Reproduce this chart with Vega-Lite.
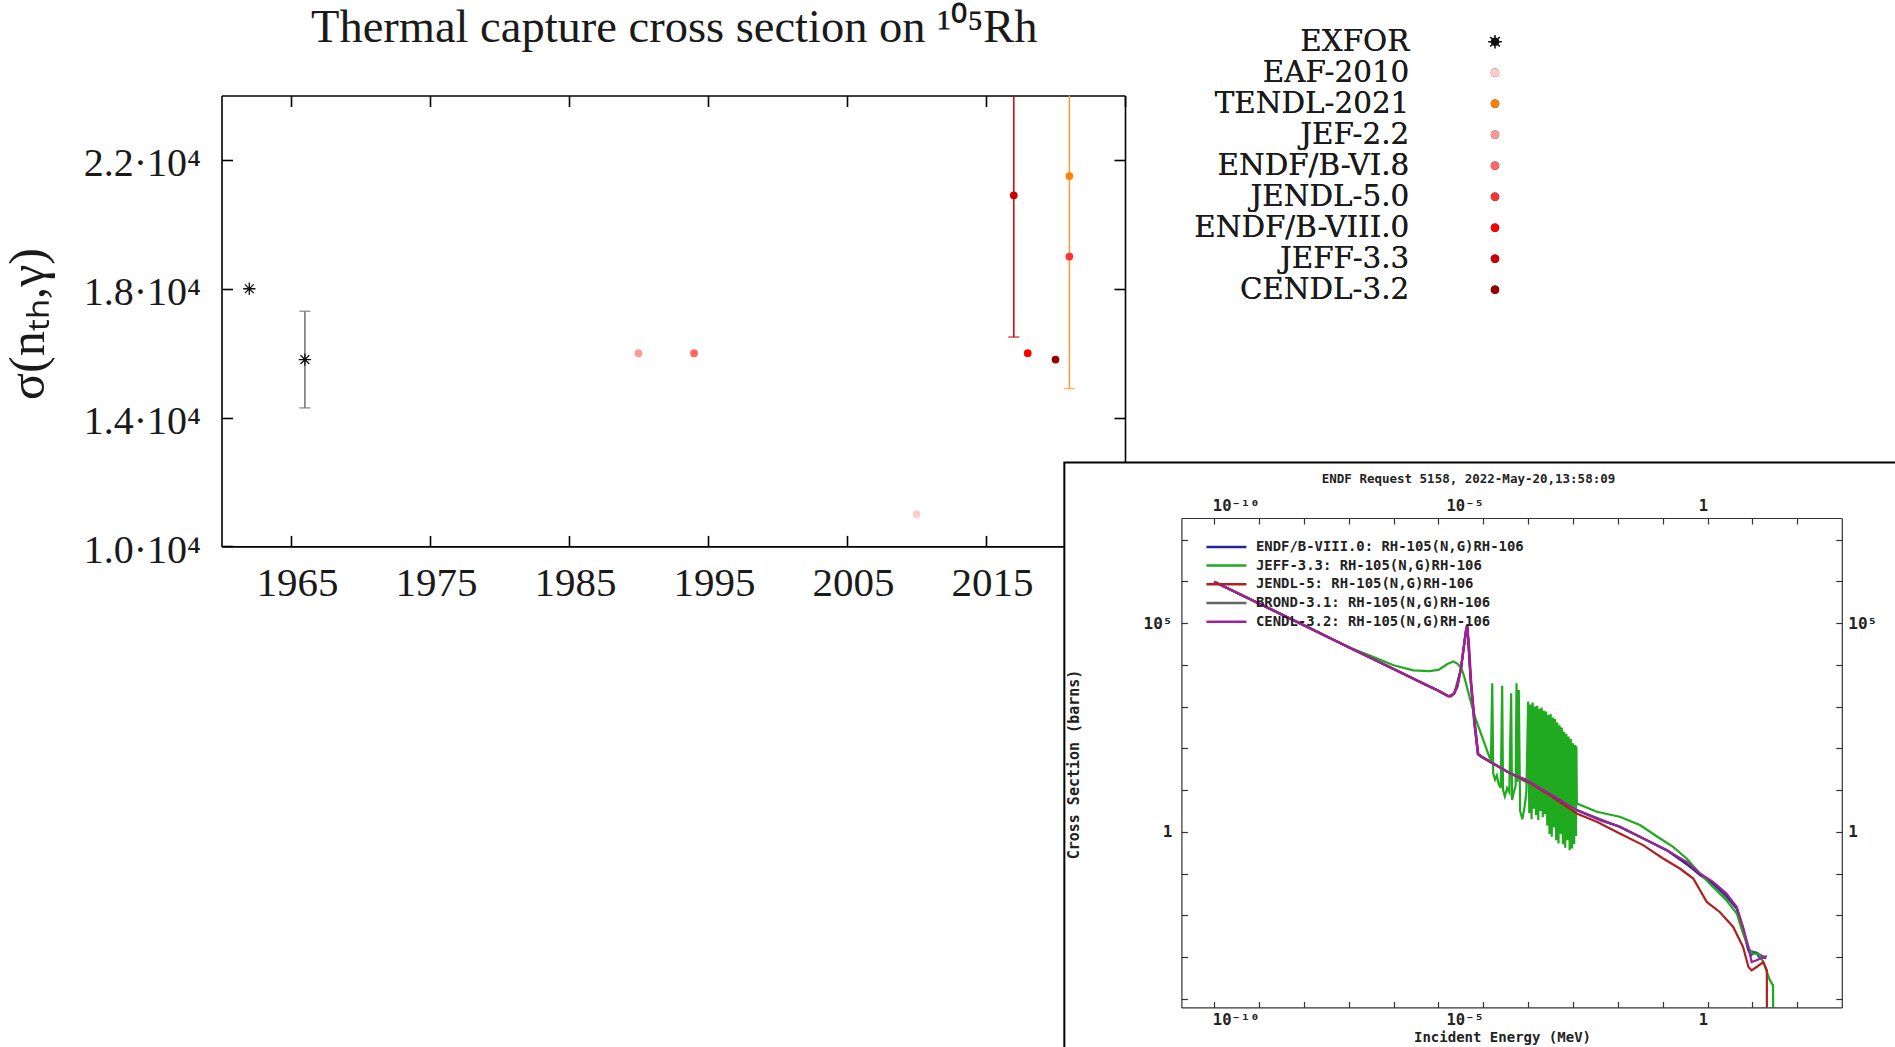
{
  "$schema": "https://vega.github.io/schema/vega-lite/v6.json",
  "width": 1895,
  "height": 1047,
  "autosize": {"type": "none"},
  "padding": 0,
  "background": "white",
  "config": {"view": {"stroke": null}},
  "datasets": {
    "thermal": [
      {"series": "EXFOR", "year": 1962, "value": 18000},
      {"series": "EXFOR", "year": 1966, "value": 15800, "lo": 14300, "hi": 17300},
      {"series": "JEF-2.2", "year": 1990, "value": 16000},
      {"series": "ENDF/B-VI.8", "year": 1994, "value": 16000},
      {"series": "EAF-2010", "year": 2010, "value": 11000},
      {"series": "JEFF-3.3", "year": 2017, "value": 20900, "lo": 16500, "hi": 25300},
      {"series": "ENDF/B-VIII.0", "year": 2018, "value": 16000},
      {"series": "CENDL-3.2", "year": 2020, "value": 15800},
      {"series": "TENDL-2021", "year": 2021, "value": 21500, "lo": 14900, "hi": 28100},
      {"series": "JENDL-5.0", "year": 2021, "value": 19000}
    ],
    "panel": [{"e0": 4.57e-15, "e1": 20000, "s0": 3e-6, "s1": 7.08e8}],
    "curves": [
      {"library": "BROND-3.1", "energy": 1e-11, "xs": 977000},
      {"library": "BROND-3.1", "energy": 1e-8, "xs": 26300},
      {"library": "BROND-3.1", "energy": 1e-6, "xs": 2400},
      {"library": "BROND-3.1", "energy": 1.66e-6, "xs": 1780},
      {"library": "BROND-3.1", "energy": 2.24e-6, "xs": 2090},
      {"library": "BROND-3.1", "energy": 3.16e-6, "xs": 7940},
      {"library": "BROND-3.1", "energy": 4.37e-6, "xs": 89100},
      {"library": "BROND-3.1", "energy": 5.25e-6, "xs": 3980},
      {"library": "BROND-3.1", "energy": 7.59e-6, "xs": 72.4},
      {"library": "BROND-3.1", "energy": 3.98e-5, "xs": 25.1},
      {"library": "BROND-3.1", "energy": 1.2e-3, "xs": 3.31},
      {"library": "BROND-3.1", "energy": 0.011, "xs": 1.32},
      {"library": "BROND-3.1", "energy": 0.123, "xs": 0.363},
      {"library": "BROND-3.1", "energy": 1.32, "xs": 0.0575},
      {"library": "BROND-3.1", "energy": 4.47, "xs": 0.0145},
      {"library": "BROND-3.1", "energy": 8.13, "xs": 0.00145},
      {"library": "BROND-3.1", "energy": 12.3, "xs": 0.00126},
      {"library": "BROND-3.1", "energy": 20, "xs": 0.000955},

      {"library": "ENDF/B-VIII.0", "energy": 1e-11, "xs": 977000},
      {"library": "ENDF/B-VIII.0", "energy": 1e-10, "xs": 295000},
      {"library": "ENDF/B-VIII.0", "energy": 1e-9, "xs": 89100},
      {"library": "ENDF/B-VIII.0", "energy": 1e-8, "xs": 26300},
      {"library": "ENDF/B-VIII.0", "energy": 1e-7, "xs": 7940},
      {"library": "ENDF/B-VIII.0", "energy": 5.01e-7, "xs": 3390},
      {"library": "ENDF/B-VIII.0", "energy": 1e-6, "xs": 2400},
      {"library": "ENDF/B-VIII.0", "energy": 1.41e-6, "xs": 1950},
      {"library": "ENDF/B-VIII.0", "energy": 1.66e-6, "xs": 1780},
      {"library": "ENDF/B-VIII.0", "energy": 1.91e-6, "xs": 1780},
      {"library": "ENDF/B-VIII.0", "energy": 2.24e-6, "xs": 2090},
      {"library": "ENDF/B-VIII.0", "energy": 2.63e-6, "xs": 3020},
      {"library": "ENDF/B-VIII.0", "energy": 3.16e-6, "xs": 7940},
      {"library": "ENDF/B-VIII.0", "energy": 3.63e-6, "xs": 25100},
      {"library": "ENDF/B-VIII.0", "energy": 4.07e-6, "xs": 63100},
      {"library": "ENDF/B-VIII.0", "energy": 4.37e-6, "xs": 89100},
      {"library": "ENDF/B-VIII.0", "energy": 4.68e-6, "xs": 31600},
      {"library": "ENDF/B-VIII.0", "energy": 5.25e-6, "xs": 3980},
      {"library": "ENDF/B-VIII.0", "energy": 6.31e-6, "xs": 398},
      {"library": "ENDF/B-VIII.0", "energy": 7.59e-6, "xs": 72.4},
      {"library": "ENDF/B-VIII.0", "energy": 8.91e-6, "xs": 63.1},
      {"library": "ENDF/B-VIII.0", "energy": 3.98e-5, "xs": 25.1},
      {"library": "ENDF/B-VIII.0", "energy": 9.12e-5, "xs": 17.4},
      {"library": "ENDF/B-VIII.0", "energy": 3.16e-4, "xs": 7.94},
      {"library": "ENDF/B-VIII.0", "energy": 1.2e-3, "xs": 3.31},
      {"library": "ENDF/B-VIII.0", "energy": 3.98e-3, "xs": 1.91},
      {"library": "ENDF/B-VIII.0", "energy": 0.011, "xs": 1.32},
      {"library": "ENDF/B-VIII.0", "energy": 0.0437, "xs": 0.631},
      {"library": "ENDF/B-VIII.0", "energy": 0.123, "xs": 0.363},
      {"library": "ENDF/B-VIII.0", "energy": 0.339, "xs": 0.174},
      {"library": "ENDF/B-VIII.0", "energy": 0.676, "xs": 0.0912},
      {"library": "ENDF/B-VIII.0", "energy": 1.32, "xs": 0.0575},
      {"library": "ENDF/B-VIII.0", "energy": 2.63, "xs": 0.0302},
      {"library": "ENDF/B-VIII.0", "energy": 4.47, "xs": 0.0145},
      {"library": "ENDF/B-VIII.0", "energy": 6.17, "xs": 0.00479},
      {"library": "ENDF/B-VIII.0", "energy": 8.13, "xs": 0.00145},
      {"library": "ENDF/B-VIII.0", "energy": 9.33, "xs": 0.0011},
      {"library": "ENDF/B-VIII.0", "energy": 10.5, "xs": 0.00126},
      {"library": "ENDF/B-VIII.0", "energy": 12.3, "xs": 0.00126},
      {"library": "ENDF/B-VIII.0", "energy": 14.1, "xs": 0.001},
      {"library": "ENDF/B-VIII.0", "energy": 20, "xs": 0.000955},

      {"library": "JEFF-3.3", "energy": 1e-11, "xs": 977000},
      {"library": "JEFF-3.3", "energy": 1e-10, "xs": 295000},
      {"library": "JEFF-3.3", "energy": 1e-9, "xs": 89100},
      {"library": "JEFF-3.3", "energy": 1e-8, "xs": 26300},
      {"library": "JEFF-3.3", "energy": 3.16e-8, "xs": 16200},
      {"library": "JEFF-3.3", "energy": 1e-7, "xs": 9770},
      {"library": "JEFF-3.3", "energy": 2.75e-7, "xs": 7410},
      {"library": "JEFF-3.3", "energy": 6.31e-7, "xs": 7080},
      {"library": "JEFF-3.3", "energy": 1e-6, "xs": 7590},
      {"library": "JEFF-3.3", "energy": 1.58e-6, "xs": 10500},
      {"library": "JEFF-3.3", "energy": 2.14e-6, "xs": 12000},
      {"library": "JEFF-3.3", "energy": 2.63e-6, "xs": 10700},
      {"library": "JEFF-3.3", "energy": 3.24e-6, "xs": 8320},
      {"library": "JEFF-3.3", "energy": 3.8e-6, "xs": 5010},
      {"library": "JEFF-3.3", "energy": 4.27e-6, "xs": 3020},
      {"library": "JEFF-3.3", "energy": 6.46e-6, "xs": 575},
      {"library": "JEFF-3.3", "energy": 1e-5, "xs": 158},
      {"library": "JEFF-3.3", "energy": 1.38e-5, "xs": 60.3},
      {"library": "JEFF-3.3", "energy": 1.48e-5, "xs": 50.1},
      {"library": "JEFF-3.3", "energy": 1.58e-5, "xs": 3630},
      {"library": "JEFF-3.3", "energy": 1.66e-5, "xs": 25.1},
      {"library": "JEFF-3.3", "energy": 1.82e-5, "xs": 17.8},
      {"library": "JEFF-3.3", "energy": 2.0e-5, "xs": 22.4},
      {"library": "JEFF-3.3", "energy": 2.19e-5, "xs": 14.1},
      {"library": "JEFF-3.3", "energy": 2.45e-5, "xs": 11.2},
      {"library": "JEFF-3.3", "energy": 2.63e-5, "xs": 3160},
      {"library": "JEFF-3.3", "energy": 2.75e-5, "xs": 10.0},
      {"library": "JEFF-3.3", "energy": 3.02e-5, "xs": 7.08},
      {"library": "JEFF-3.3", "energy": 3.39e-5, "xs": 11.2},
      {"library": "JEFF-3.3", "energy": 3.8e-5, "xs": 8.91},
      {"library": "JEFF-3.3", "energy": 4.17e-5, "xs": 2090},
      {"library": "JEFF-3.3", "energy": 4.37e-5, "xs": 5.75},
      {"library": "JEFF-3.3", "energy": 4.79e-5, "xs": 8.91},
      {"library": "JEFF-3.3", "energy": 5.25e-5, "xs": 12.6},
      {"library": "JEFF-3.3", "energy": 5.5e-5, "xs": 3630},
      {"library": "JEFF-3.3", "energy": 5.75e-5, "xs": 15.8},
      {"library": "JEFF-3.3", "energy": 6.17e-5, "xs": 2510},
      {"library": "JEFF-3.3", "energy": 6.61e-5, "xs": 3.16},
      {"library": "JEFF-3.3", "energy": 7.41e-5, "xs": 2.0},
      {"library": "JEFF-3.3", "energy": 8.32e-5, "xs": 3.98},
      {"library": "JEFF-3.3", "energy": 9.12e-5, "xs": 8.91},
      {"library": "JEFF-3.3", "energy": 1.0e-4, "xs": 1318},
      {"library": "JEFF-3.3", "energy": 1.059e-4, "xs": 2.82},
      {"library": "JEFF-3.3", "energy": 1.122e-4, "xs": 1122},
      {"library": "JEFF-3.3", "energy": 1.189e-4, "xs": 2.0},
      {"library": "JEFF-3.3", "energy": 1.259e-4, "xs": 1259},
      {"library": "JEFF-3.3", "energy": 1.334e-4, "xs": 3.55},
      {"library": "JEFF-3.3", "energy": 1.413e-4, "xs": 1000},
      {"library": "JEFF-3.3", "energy": 1.496e-4, "xs": 2.51},
      {"library": "JEFF-3.3", "energy": 1.585e-4, "xs": 1047},
      {"library": "JEFF-3.3", "energy": 1.679e-4, "xs": 1.91},
      {"library": "JEFF-3.3", "energy": 1.778e-4, "xs": 891},
      {"library": "JEFF-3.3", "energy": 1.884e-4, "xs": 3.16},
      {"library": "JEFF-3.3", "energy": 1.995e-4, "xs": 955},
      {"library": "JEFF-3.3", "energy": 2.113e-4, "xs": 2.24},
      {"library": "JEFF-3.3", "energy": 2.239e-4, "xs": 794},
      {"library": "JEFF-3.3", "energy": 2.371e-4, "xs": 2.63},
      {"library": "JEFF-3.3", "energy": 2.512e-4, "xs": 759},
      {"library": "JEFF-3.3", "energy": 2.661e-4, "xs": 1.41},
      {"library": "JEFF-3.3", "energy": 2.818e-4, "xs": 631},
      {"library": "JEFF-3.3", "energy": 2.985e-4, "xs": 0.891},
      {"library": "JEFF-3.3", "energy": 3.162e-4, "xs": 661},
      {"library": "JEFF-3.3", "energy": 3.35e-4, "xs": 0.759},
      {"library": "JEFF-3.3", "energy": 3.548e-4, "xs": 550},
      {"library": "JEFF-3.3", "energy": 3.758e-4, "xs": 1.26},
      {"library": "JEFF-3.3", "energy": 3.981e-4, "xs": 501},
      {"library": "JEFF-3.3", "energy": 4.217e-4, "xs": 0.631},
      {"library": "JEFF-3.3", "energy": 4.467e-4, "xs": 417},
      {"library": "JEFF-3.3", "energy": 4.732e-4, "xs": 0.525},
      {"library": "JEFF-3.3", "energy": 5.012e-4, "xs": 355},
      {"library": "JEFF-3.3", "energy": 5.309e-4, "xs": 0.891},
      {"library": "JEFF-3.3", "energy": 5.623e-4, "xs": 316},
      {"library": "JEFF-3.3", "energy": 5.957e-4, "xs": 0.501},
      {"library": "JEFF-3.3", "energy": 6.31e-4, "xs": 251},
      {"library": "JEFF-3.3", "energy": 6.683e-4, "xs": 0.417},
      {"library": "JEFF-3.3", "energy": 7.079e-4, "xs": 224},
      {"library": "JEFF-3.3", "energy": 7.499e-4, "xs": 0.631},
      {"library": "JEFF-3.3", "energy": 7.943e-4, "xs": 191},
      {"library": "JEFF-3.3", "energy": 8.414e-4, "xs": 0.363},
      {"library": "JEFF-3.3", "energy": 8.913e-4, "xs": 166},
      {"library": "JEFF-3.3", "energy": 9.441e-4, "xs": 0.398},
      {"library": "JEFF-3.3", "energy": 1.0e-3, "xs": 132},
      {"library": "JEFF-3.3", "energy": 1.059e-3, "xs": 0.501},
      {"library": "JEFF-3.3", "energy": 1.122e-3, "xs": 120},
      {"library": "JEFF-3.3", "energy": 1.161e-3, "xs": 0.794},
      {"library": "JEFF-3.3", "energy": 1.189e-3, "xs": 110},
      {"library": "JEFF-3.3", "energy": 1.216e-3, "xs": 4.79},
      {"library": "JEFF-3.3", "energy": 3.39e-3, "xs": 3.02},
      {"library": "JEFF-3.3", "energy": 0.011, "xs": 2.29},
      {"library": "JEFF-3.3", "energy": 0.0309, "xs": 1.45},
      {"library": "JEFF-3.3", "energy": 0.0871, "xs": 0.692},
      {"library": "JEFF-3.3", "energy": 0.17, "xs": 0.437},
      {"library": "JEFF-3.3", "energy": 0.339, "xs": 0.229},
      {"library": "JEFF-3.3", "energy": 0.676, "xs": 0.1},
      {"library": "JEFF-3.3", "energy": 1.32, "xs": 0.0479},
      {"library": "JEFF-3.3", "energy": 2.63, "xs": 0.0229},
      {"library": "JEFF-3.3", "energy": 4.47, "xs": 0.011},
      {"library": "JEFF-3.3", "energy": 6.17, "xs": 0.00363},
      {"library": "JEFF-3.3", "energy": 8.13, "xs": 0.00174},
      {"library": "JEFF-3.3", "energy": 9.55, "xs": 0.0012},
      {"library": "JEFF-3.3", "energy": 13.5, "xs": 0.0012},
      {"library": "JEFF-3.3", "energy": 17.4, "xs": 0.000759},
      {"library": "JEFF-3.3", "energy": 24.5, "xs": 0.000275},
      {"library": "JEFF-3.3", "energy": 28.8, "xs": 0.000209},
      {"library": "JEFF-3.3", "energy": 28.9, "xs": 6.2e-5},

      {"library": "JENDL-5", "energy": 1e-11, "xs": 977000},
      {"library": "JENDL-5", "energy": 1e-10, "xs": 295000},
      {"library": "JENDL-5", "energy": 1e-9, "xs": 89100},
      {"library": "JENDL-5", "energy": 1e-8, "xs": 26300},
      {"library": "JENDL-5", "energy": 1e-7, "xs": 7940},
      {"library": "JENDL-5", "energy": 1e-6, "xs": 2400},
      {"library": "JENDL-5", "energy": 1.41e-6, "xs": 1950},
      {"library": "JENDL-5", "energy": 1.66e-6, "xs": 1780},
      {"library": "JENDL-5", "energy": 1.91e-6, "xs": 1780},
      {"library": "JENDL-5", "energy": 2.24e-6, "xs": 2090},
      {"library": "JENDL-5", "energy": 2.63e-6, "xs": 3020},
      {"library": "JENDL-5", "energy": 3.16e-6, "xs": 7940},
      {"library": "JENDL-5", "energy": 3.63e-6, "xs": 25100},
      {"library": "JENDL-5", "energy": 4.07e-6, "xs": 63100},
      {"library": "JENDL-5", "energy": 4.37e-6, "xs": 89100},
      {"library": "JENDL-5", "energy": 4.79e-6, "xs": 31600},
      {"library": "JENDL-5", "energy": 5.37e-6, "xs": 3980},
      {"library": "JENDL-5", "energy": 6.46e-6, "xs": 398},
      {"library": "JENDL-5", "energy": 7.76e-6, "xs": 72.4},
      {"library": "JENDL-5", "energy": 8.91e-6, "xs": 63.1},
      {"library": "JENDL-5", "energy": 3.98e-5, "xs": 25.1},
      {"library": "JENDL-5", "energy": 9.12e-5, "xs": 16.6},
      {"library": "JENDL-5", "energy": 3.16e-4, "xs": 7.24},
      {"library": "JENDL-5", "energy": 1.2e-3, "xs": 2.75},
      {"library": "JENDL-5", "energy": 3.39e-3, "xs": 1.74},
      {"library": "JENDL-5", "energy": 0.011, "xs": 0.912},
      {"library": "JENDL-5", "energy": 0.0363, "xs": 0.479},
      {"library": "JENDL-5", "energy": 0.102, "xs": 0.229},
      {"library": "JENDL-5", "energy": 0.24, "xs": 0.132},
      {"library": "JENDL-5", "energy": 0.479, "xs": 0.0759},
      {"library": "JENDL-5", "energy": 0.955, "xs": 0.0209},
      {"library": "JENDL-5", "energy": 1.86, "xs": 0.012},
      {"library": "JENDL-5", "energy": 3.72, "xs": 0.00525},
      {"library": "JENDL-5", "energy": 6.17, "xs": 0.00174},
      {"library": "JENDL-5", "energy": 8.13, "xs": 0.000575},
      {"library": "JENDL-5", "energy": 9.55, "xs": 0.000479},
      {"library": "JENDL-5", "energy": 12.3, "xs": 0.000575},
      {"library": "JENDL-5", "energy": 17.4, "xs": 0.000759},
      {"library": "JENDL-5", "energy": 20.9, "xs": 0.000479},
      {"library": "JENDL-5", "energy": 20.95, "xs": 6.2e-5},

      {"library": "CENDL-3.2", "energy": 1e-11, "xs": 977000},
      {"library": "CENDL-3.2", "energy": 1e-10, "xs": 295000},
      {"library": "CENDL-3.2", "energy": 1e-9, "xs": 89100},
      {"library": "CENDL-3.2", "energy": 1e-8, "xs": 26300},
      {"library": "CENDL-3.2", "energy": 1e-7, "xs": 7940},
      {"library": "CENDL-3.2", "energy": 5.01e-7, "xs": 3390},
      {"library": "CENDL-3.2", "energy": 1e-6, "xs": 2400},
      {"library": "CENDL-3.2", "energy": 1.41e-6, "xs": 1950},
      {"library": "CENDL-3.2", "energy": 1.66e-6, "xs": 1780},
      {"library": "CENDL-3.2", "energy": 1.91e-6, "xs": 1780},
      {"library": "CENDL-3.2", "energy": 2.24e-6, "xs": 2090},
      {"library": "CENDL-3.2", "energy": 2.63e-6, "xs": 3020},
      {"library": "CENDL-3.2", "energy": 3.16e-6, "xs": 7940},
      {"library": "CENDL-3.2", "energy": 3.63e-6, "xs": 25100},
      {"library": "CENDL-3.2", "energy": 4.07e-6, "xs": 63100},
      {"library": "CENDL-3.2", "energy": 4.37e-6, "xs": 93300},
      {"library": "CENDL-3.2", "energy": 4.68e-6, "xs": 31600},
      {"library": "CENDL-3.2", "energy": 5.25e-6, "xs": 3980},
      {"library": "CENDL-3.2", "energy": 6.31e-6, "xs": 398},
      {"library": "CENDL-3.2", "energy": 7.59e-6, "xs": 72.4},
      {"library": "CENDL-3.2", "energy": 8.91e-6, "xs": 63.1},
      {"library": "CENDL-3.2", "energy": 3.98e-5, "xs": 25.1},
      {"library": "CENDL-3.2", "energy": 9.12e-5, "xs": 17.4},
      {"library": "CENDL-3.2", "energy": 3.16e-4, "xs": 7.94},
      {"library": "CENDL-3.2", "energy": 1.2e-3, "xs": 3.31},
      {"library": "CENDL-3.2", "energy": 3.98e-3, "xs": 1.91},
      {"library": "CENDL-3.2", "energy": 0.011, "xs": 1.32},
      {"library": "CENDL-3.2", "energy": 0.0437, "xs": 0.631},
      {"library": "CENDL-3.2", "energy": 0.123, "xs": 0.363},
      {"library": "CENDL-3.2", "energy": 0.339, "xs": 0.191},
      {"library": "CENDL-3.2", "energy": 0.676, "xs": 0.1},
      {"library": "CENDL-3.2", "energy": 1.32, "xs": 0.0631},
      {"library": "CENDL-3.2", "energy": 2.63, "xs": 0.0331},
      {"library": "CENDL-3.2", "energy": 4.47, "xs": 0.0158},
      {"library": "CENDL-3.2", "energy": 6.17, "xs": 0.00525},
      {"library": "CENDL-3.2", "energy": 8.13, "xs": 0.00174},
      {"library": "CENDL-3.2", "energy": 9.55, "xs": 0.000759},
      {"library": "CENDL-3.2", "energy": 12.3, "xs": 0.000832},
      {"library": "CENDL-3.2", "energy": 14.8, "xs": 0.000912},
      {"library": "CENDL-3.2", "energy": 20.9, "xs": 0.00105}
    ]
  },
  "layer": [
    {
      "data": {"name": "thermal"},
      "layer": [
        {
          "transform": [{"filter": "isValid(datum.lo)"}],
          "mark": {"type": "rule", "strokeWidth": 1.5},
          "encoding": {
            "x": {"field": "year", "type": "quantitative",
                  "scale": {"domain": [1960, 2025], "range": [221.5, 1125], "nice": false, "zero": false},
                  "axis": {"orient": "bottom", "offset": -500.6, "values": [1965, 1975, 1985, 1995, 2005, 2015, 2025], "format": "d",
                           "tickSize": -11, "tickWidth": 1.6, "tickColor": "#000", "domainColor": "#000", "domainWidth": 1.6,
                           "labelFont": "Liberation Serif", "labelFontSize": 41, "labelColor": "#1a1a1a", "labelPadding": 28, "labelOffset": 6,
                           "labelFlush": false, "labelOverlap": false, "grid": false, "title": null}},
            "y": {"field": "lo", "type": "quantitative",
                  "scale": {"domain": [10000, 24000], "range": [546.4, 95.5], "nice": false, "zero": false, "clamp": true},
                  "axis": {"orient": "left", "offset": -221.5, "values": [10000, 14000, 18000, 22000],
                           "labelExpr": "format(datum.value / 10000, '.1f') + '·10⁴'",
                           "tickSize": -11, "tickWidth": 1.6, "tickColor": "#000", "domainColor": "#000", "domainWidth": 1.6,
                           "labelFont": "Liberation Serif", "labelFontSize": 40, "labelColor": "#1a1a1a", "labelPadding": 32, "labelOffset": 4,
                           "labelFlush": false, "labelOverlap": false, "grid": false,
                           "title": "σ(nₜₕ,γ)", "titleFont": "Liberation Serif", "titleFontSize": 50, "titleFontWeight": "normal", "titleColor": "#1a1a1a",
                           "titleX": -193, "titleY": 323.5, "titleAngle": -90, "titleAlign": "center", "titleBaseline": "middle"}},
            "y2": {"field": "hi"},
            "stroke": {"field": "series", "type": "nominal", "scale": {"domain": ["EXFOR", "JEFF-3.3", "TENDL-2021"], "range": ["#707070", "#cc0000", "#ff9933"]}, "legend": null}
          }
        },
        {
          "transform": [{"filter": "isValid(datum.lo)"}],
          "mark": {"type": "tick", "orient": "horizontal", "size": 11, "thickness": 1.5},
          "encoding": {
            "x": {"field": "year", "type": "quantitative", "scale": {"domain": [1960, 2025], "range": [221.5, 1125], "nice": false, "zero": false}, "axis": null},
            "y": {"field": "lo", "type": "quantitative", "scale": {"domain": [10000, 24000], "range": [546.4, 95.5], "nice": false, "zero": false, "clamp": true}, "axis": null},
            "fill": {"field": "series", "type": "nominal", "scale": {"domain": ["EXFOR", "JEFF-3.3", "TENDL-2021"], "range": ["#707070", "#cc0000", "#ff9933"]}, "legend": null}
          }
        },
        {
          "transform": [{"filter": "isValid(datum.hi) && datum.hi <= 24000"}],
          "mark": {"type": "tick", "orient": "horizontal", "size": 11, "thickness": 1.5},
          "encoding": {
            "x": {"field": "year", "type": "quantitative", "scale": {"domain": [1960, 2025], "range": [221.5, 1125], "nice": false, "zero": false}, "axis": null},
            "y": {"field": "hi", "type": "quantitative", "scale": {"domain": [10000, 24000], "range": [546.4, 95.5], "nice": false, "zero": false, "clamp": true}, "axis": null},
            "fill": {"field": "series", "type": "nominal", "scale": {"domain": ["EXFOR", "JEFF-3.3", "TENDL-2021"], "range": ["#707070", "#cc0000", "#ff9933"]}, "legend": null}
          }
        },
        {
          "mark": {"type": "point", "filled": true, "size": 60, "opacity": 1, "strokeWidth": 0},
          "encoding": {
            "x": {"field": "year", "type": "quantitative",
                  "scale": {"domain": [1960, 2025], "range": [221.5, 1125], "nice": false, "zero": false},
                  "axis": {"orient": "top", "offset": -95.5, "values": [1965, 1975, 1985, 1995, 2005, 2015, 2025], "labels": false,
                           "tickSize": -11, "tickWidth": 1.6, "tickColor": "#000", "domainColor": "#000", "domainWidth": 1.6, "grid": false,
                           "title": "Thermal capture cross section on ¹⁰⁵Rh", "titleFont": "Liberation Serif", "titleFontSize": 46.5, "titleFontWeight": "normal", "titleColor": "#1a1a1a",
                           "titleX": 673.8, "titleY": -54.5, "titleAlign": "center", "titleBaseline": "alphabetic", "titleAngle": 0}},
            "y": {"field": "value", "type": "quantitative",
                  "scale": {"domain": [10000, 24000], "range": [546.4, 95.5], "nice": false, "zero": false, "clamp": true},
                  "axis": {"orient": "right", "offset": -770, "values": [10000, 14000, 18000, 22000], "labels": false,
                           "tickSize": -11, "tickWidth": 1.6, "tickColor": "#000", "domainColor": "#000", "domainWidth": 1.6, "grid": false, "title": null}},
            "color": {"field": "series", "type": "nominal",
                      "scale": {"domain": ["EXFOR", "EAF-2010", "TENDL-2021", "JEF-2.2", "ENDF/B-VI.8", "JENDL-5.0", "ENDF/B-VIII.0", "JEFF-3.3", "CENDL-3.2"],
                                "range": ["#111111", "#ffcccc", "#ff8000", "#ff9999", "#ff6666", "#ff3333", "#ff0000", "#cc0000", "#990000"]},
                      "legend": {"orient": "none", "legendX": 1480.3, "legendY": 27, "title": null, "labelAlign": "right", "labelOffset": -100.4,
                                 "labelFont": "DejaVu Serif", "labelFontSize": 29.4, "labelColor": "#1a1a1a", "labelLimit": 0,
                                 "symbolSize": 72, "symbolStrokeWidth": 0, "rowPadding": 0, "padding": 0, "zindex": 1}},
            "shape": {"field": "series", "type": "nominal",
                      "scale": {"domain": ["EXFOR", "EAF-2010", "TENDL-2021", "JEF-2.2", "ENDF/B-VI.8", "JENDL-5.0", "ENDF/B-VIII.0", "JEFF-3.3", "CENDL-3.2"],
                                "range": ["M-1.6,-0.17L1.6,-0.17L1.6,0.17L-1.6,0.17ZM0.17,-1.6L0.17,1.6L-0.17,1.6L-0.17,-1.6ZM-1.01,-1.25L1.25,1.01L1.01,1.25L-1.25,-1.01ZM-1.25,1.01L1.01,-1.25L1.25,-1.01L-1.01,1.25Z", "circle", "circle", "circle", "circle", "circle", "circle", "circle", "circle"]},
                      "legend": {"orient": "none", "legendX": 1480.3, "legendY": 27, "title": null, "labelAlign": "right", "labelOffset": -100.4,
                                 "labelFont": "DejaVu Serif", "labelFontSize": 29.4, "labelColor": "#1a1a1a", "labelLimit": 0,
                                 "symbolSize": 72, "symbolStrokeWidth": 0, "rowPadding": 0, "padding": 0, "zindex": 1}}
          }
        }
      ],
      "resolve": {"axis": {"x": "independent", "y": "independent"}}
    },
    {
      "layer": [
        {
          "data": {"name": "panel"},
          "mark": {"type": "rect", "fill": "white", "stroke": "black", "strokeWidth": 2},
          "encoding": {
            "x": {"field": "e0", "type": "quantitative",
                  "scale": {"type": "log", "domain": [1.86e-12, 980], "range": [1181.4, 1841.8], "nice": false},
                  "axis": {"orient": "top", "offset": -518, "values": [1e-11, 1e-10, 1e-9, 1e-8, 1e-7, 1e-6, 1e-5, 1e-4, 1e-3, 1e-2, 0.1, 1, 10, 100],
                           "labelExpr": "datum.value == 1e-10 ? '10⁻¹⁰' : datum.value == 1e-5 ? '10⁻⁵' : datum.value == 1 ? '1' : ''",
                           "labelAlign": "right", "labelBaseline": "middle", "labelPadding": 19,
                           "tickSize": -6, "tickWidth": 1.2, "tickColor": "#333", "domainColor": "#333", "domainWidth": 1.2,
                           "labelFont": "DejaVu Sans Mono", "labelFontWeight": "bold", "labelFontSize": 15.5, "labelColor": "#222",
                           "labelFlush": false, "labelOverlap": false, "grid": false, "zindex": 1,
                           "title": "ENDF Request 5158, 2022-May-20,13:58:09", "titleFont": "DejaVu Sans Mono", "titleFontWeight": "bold", "titleFontSize": 12.5, "titleColor": "#222",
                           "titleX": 1468, "titleY": -39.4, "titleAlign": "center", "titleBaseline": "middle", "titleAngle": 0}},
            "x2": {"field": "e1"},
            "y": {"field": "s0", "type": "quantitative",
                  "scale": {"type": "log", "domain": [6.2e-5, 3.3e7], "range": [1007.4, 518], "nice": false},
                  "axis": {"orient": "right", "offset": -53.2, "values": [1e-4, 1e-3, 1e-2, 0.1, 1, 10, 100, 1000, 1e4, 1e5, 1e6, 1e7],
                           "labelExpr": "datum.value == 100000 ? '10⁵' : datum.value == 1 ? '1' : ''",
                           "labelAlign": "left", "labelBaseline": "middle", "labelPadding": 12,
                           "tickSize": -6, "tickWidth": 1.2, "tickColor": "#333", "domainColor": "#333", "domainWidth": 1.2,
                           "labelFont": "DejaVu Sans Mono", "labelFontWeight": "bold", "labelFontSize": 16, "labelColor": "#222",
                           "labelFlush": false, "labelOverlap": false, "grid": false, "zindex": 1, "title": null}},
            "y2": {"field": "s1"}
          }
        },
        {
          "data": {"name": "curves"},
          "mark": {"type": "line", "strokeWidth": 2.2, "interpolate": "linear"},
          "encoding": {
            "x": {"field": "energy", "type": "quantitative",
                  "scale": {"type": "log", "domain": [1.86e-12, 980], "range": [1181.4, 1841.8], "nice": false},
                  "axis": {"orient": "bottom", "offset": -39.6, "values": [1e-11, 1e-10, 1e-9, 1e-8, 1e-7, 1e-6, 1e-5, 1e-4, 1e-3, 1e-2, 0.1, 1, 10, 100],
                           "labelExpr": "datum.value == 1e-10 ? '10⁻¹⁰' : datum.value == 1e-5 ? '10⁻⁵' : datum.value == 1 ? '1' : ''",
                           "labelAlign": "right", "labelBaseline": "middle", "labelPadding": 17.6,
                           "tickSize": -6, "tickWidth": 1.2, "tickColor": "#333", "domainColor": "#333", "domainWidth": 1.2,
                           "labelFont": "DejaVu Sans Mono", "labelFontWeight": "bold", "labelFontSize": 15.5, "labelColor": "#222",
                           "labelFlush": false, "labelOverlap": false, "grid": false, "zindex": 1,
                           "title": "Incident Energy (MeV)", "titleFont": "DejaVu Sans Mono", "titleFontWeight": "bold", "titleFontSize": 14, "titleColor": "#222",
                           "titleX": 1502, "titleY": 29.6, "titleAlign": "center", "titleBaseline": "middle", "titleAngle": 0}},
            "y": {"field": "xs", "type": "quantitative",
                  "scale": {"type": "log", "domain": [6.2e-5, 3.3e7], "range": [1007.4, 518], "nice": false},
                  "axis": {"orient": "left", "offset": -1181.4, "values": [1e-4, 1e-3, 1e-2, 0.1, 1, 10, 100, 1000, 1e4, 1e5, 1e6, 1e7],
                           "labelExpr": "datum.value == 100000 ? '10⁵' : datum.value == 1 ? '1' : ''",
                           "labelAlign": "right", "labelBaseline": "middle", "labelPadding": 15.4,
                           "tickSize": -6, "tickWidth": 1.2, "tickColor": "#333", "domainColor": "#333", "domainWidth": 1.2,
                           "labelFont": "DejaVu Sans Mono", "labelFontWeight": "bold", "labelFontSize": 16, "labelColor": "#222",
                           "labelFlush": false, "labelOverlap": false, "grid": false, "zindex": 1,
                           "title": "Cross Section (barns)", "titleFont": "DejaVu Sans Mono", "titleFontWeight": "bold", "titleFontSize": 15, "titleColor": "#222",
                           "titleX": -108.4, "titleY": 764, "titleAngle": -90, "titleAlign": "center", "titleBaseline": "middle"}},
            "color": {"field": "library", "type": "nominal",
                      "scale": {"domain": ["ENDF/B-VIII.0", "JEFF-3.3", "JENDL-5", "BROND-3.1", "CENDL-3.2"],
                                "range": ["#23239b", "#1faa1f", "#b02020", "#666666", "#a020a0"]},
                      "legend": {"orient": "none", "legendX": 1219.45, "legendY": 539.95, "title": null, "symbolType": "M-4,0L4,0",
                                 "symbolSize": 100, "symbolStrokeWidth": 2.5, "labelExpr": "datum.label + ': RH-105(N,G)RH-106'",
                                 "labelFont": "DejaVu Sans Mono", "labelFontWeight": "bold", "labelFontSize": 13.9, "labelColor": "#222",
                                 "labelOffset": 22.65, "labelLimit": 0, "rowPadding": 3.7, "padding": 0, "zindex": 1}}
          }
        }
      ],
      "resolve": {"axis": {"x": "independent", "y": "independent"}}
    }
  ],
  "resolve": {
    "scale": {"x": "independent", "y": "independent", "color": "independent"},
    "axis": {"x": "independent", "y": "independent"},
    "legend": {"color": "independent"}
  }
}
